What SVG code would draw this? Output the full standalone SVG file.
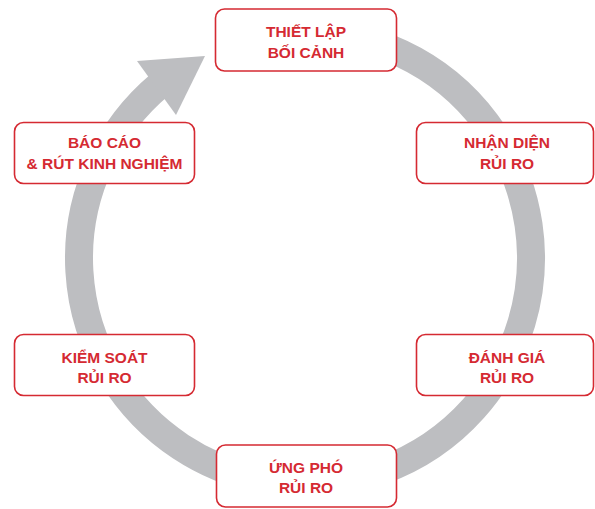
<svg xmlns="http://www.w3.org/2000/svg" width="595" height="509" viewBox="0 0 595 509">
<style>
.box{fill:#ffffff;stroke:#d52a32;stroke-width:1.6}
.lbl{font-family:"Liberation Sans",Arial,sans-serif;font-weight:700;font-size:15.5px;fill:#d52a32;text-anchor:middle}
.ring{fill:none;stroke:#bdbec1;stroke-width:28}
</style>
<rect width="595" height="509" fill="#ffffff"/>
<g id="connectors">
<path class="ring" d="M 305 32 A 226 226 0 1 1 159.7 84.9"/>
<polygon points="137,61 205,56 176,115" fill="#bdbec1"/>
</g>
<g id="node-thiet-lap">
<rect class="box" x="215.5" y="9" width="181" height="62" rx="9"/>
<text class="lbl" x="306" y="36.5">THIẾT LẬP</text>
<text class="lbl" x="306" y="57.5">BỐI CẢNH</text>
</g>
<g id="node-nhan-dien">
<rect class="box" x="416.5" y="122.5" width="177" height="61" rx="9"/>
<text class="lbl" x="507" y="148">NHẬN DIỆN</text>
<text class="lbl" x="507" y="168.5">RỦI RO</text>
</g>
<g id="node-danh-gia">
<rect class="box" x="416.5" y="334.5" width="177" height="61" rx="9"/>
<text class="lbl" x="507" y="362.5">ĐÁNH GIÁ</text>
<text class="lbl" x="507" y="382.5">RỦI RO</text>
</g>
<g id="node-ung-pho">
<rect class="box" x="216.5" y="445" width="180" height="62" rx="9"/>
<text class="lbl" x="306" y="473">ỨNG PHÓ</text>
<text class="lbl" x="306" y="493">RỦI RO</text>
</g>
<g id="node-kiem-soat">
<rect class="box" x="14.5" y="334.5" width="180" height="61" rx="9"/>
<text class="lbl" x="104.5" y="363">KIỂM SOÁT</text>
<text class="lbl" x="104.5" y="383">RỦI RO</text>
</g>
<g id="node-bao-cao">
<rect class="box" x="14.5" y="122.5" width="180" height="61" rx="9"/>
<text class="lbl" x="104.5" y="147.5">BÁO CÁO</text>
<text class="lbl" x="104.5" y="169">&amp; RÚT KINH NGHIỆM</text>
</g>
</svg>
